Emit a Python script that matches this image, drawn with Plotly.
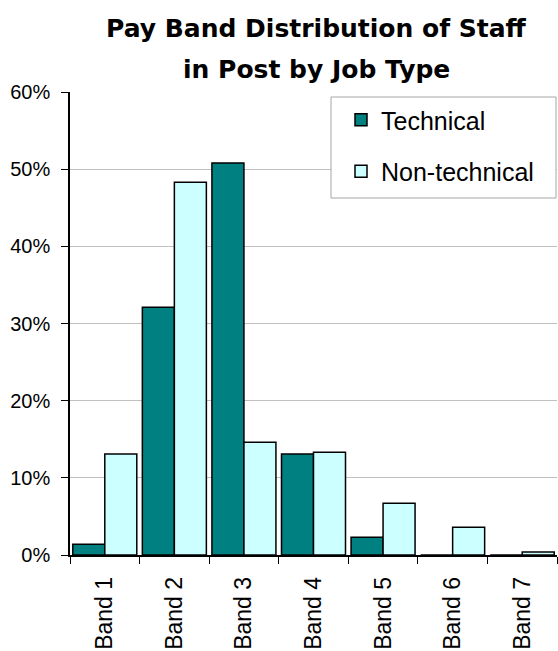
import plotly.graph_objects as go

categories = ["Band 1", "Band 2", "Band 3", "Band 4", "Band 5", "Band 6", "Band 7"]
technical = [0.014, 0.321, 0.508, 0.131, 0.023, 0.0, 0.0]
non_technical = [0.131, 0.483, 0.146, 0.133, 0.067, 0.036, 0.004]
y_ticks = [0, 0.1, 0.2, 0.3, 0.4, 0.5, 0.6]
y_tick_labels = ["0%", "10%", "20%", "30%", "40%", "50%", "60%"]
title_lines = ["Pay Band Distribution of Staff", "in Post by Job Type"]

FONT = "Liberation Sans, Arial, sans-serif"

fig = go.Figure()
fig.add_trace(go.Bar(
    x=categories, y=technical, name="Technical",
    marker=dict(color="#008080", line=dict(color="#000000", width=1.5)),
    legendgroup="a",
))
fig.add_trace(go.Bar(
    x=categories, y=non_technical, name="Non-technical",
    marker=dict(color="#CCFFFF", line=dict(color="#000000", width=1.5)),
    legendgroup="b",
))

W, H = 558, 651
ml, mr, mt, mb = 70, 1, 92, 96
pw = W - ml - mr
ph = H - mt - mb

def px_x(x):
    return (x - ml) / pw

def px_y(y):
    return (H - mb - y) / ph

for i, line in enumerate(title_lines):
    ypix = [28, 69][i]
    fig.add_annotation(
        text=line, xref="paper", yref="paper", x=px_x(316),
        y=px_y(ypix), yanchor="middle", xanchor="center",
        showarrow=False,
        font=dict(family="DejaVu Sans, Verdana, sans-serif", size=25, color="#000000", weight="bold"),
    )

# legend frame
fig.add_shape(
    type="rect", xref="paper", yref="paper", layer="above",
    x0=px_x(331), x1=px_x(556), y0=px_y(198), y1=px_y(97),
    fillcolor="white", line=dict(color="#a6a6a6", width=1),
)

fig.update_layout(
    width=W, height=H,
    margin=dict(l=ml, r=mr, t=mt, b=mb, pad=0),
    paper_bgcolor="white", plot_bgcolor="white",
    barmode="group", bargap=0.08, bargroupgap=0.0,
    font=dict(family=FONT, size=20, color="#000000"),
    showlegend=True,
    legend=dict(
        x=px_x(341), xanchor="left", y=px_y(97), yanchor="top",
        bgcolor="rgba(0,0,0,0)", borderwidth=0,
        font=dict(family=FONT, size=25, color="#000000"),
        traceorder="grouped", tracegroupgap=16,
    ),
    xaxis=dict(
        type="category", tickangle=-90,
        showline=True, linecolor="#000000", linewidth=1.5,
        ticks="outside", ticklen=7, tickcolor="#000000", tickwidth=1,
        tickson="boundaries", showgrid=False,
        ticklabelstandoff=11,
        tickfont=dict(family=FONT, size=23),
    ),
    yaxis=dict(
        range=[0, 0.6], tickvals=y_ticks, ticktext=y_tick_labels,
        showline=True, linecolor="#000000", linewidth=1.5,
        ticks="outside", ticklen=7, tickcolor="#000000",
        ticklabelstandoff=7,
        showgrid=True, gridcolor="#c0c0c0", gridwidth=1,
        zeroline=False,
        tickfont=dict(family=FONT, size=20),
    ),
)

fig.write_html("out.html")
